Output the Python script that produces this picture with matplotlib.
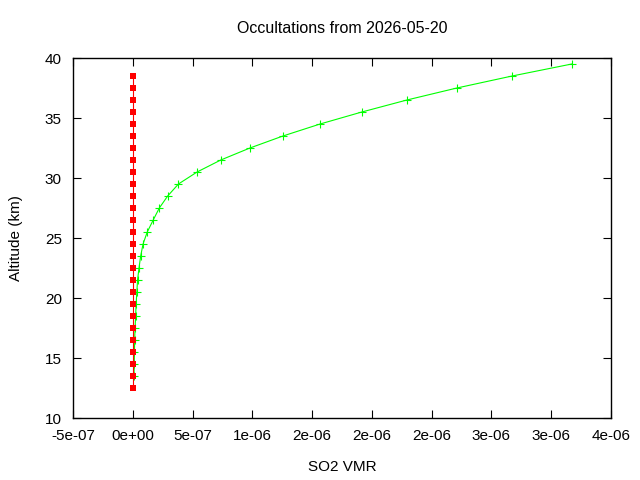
import matplotlib
matplotlib.use('Agg')
import matplotlib.pyplot as plt
from matplotlib import rc

# profile data
alt_red = [12.5, 13.5, 14.5, 15.5, 16.5, 17.5, 18.5, 19.5, 20.5, 21.5, 22.5, 23.5, 24.5,
           25.5, 26.5, 27.5, 28.5, 29.5, 30.5, 31.5, 32.5, 33.5, 34.5, 35.5, 36.5, 37.5, 38.5]
vmr_red = [0.0] * len(alt_red)

alt_green = [13.5, 14.5, 15.5, 16.5, 17.5, 18.5, 19.5, 20.5, 21.5, 22.5, 23.5, 24.5, 25.5,
             26.5, 27.5, 28.5, 29.5, 30.5, 31.5, 32.5, 33.5, 34.5, 35.5, 36.5, 37.5, 38.5, 39.5]
vmr_green = [0.010e-6, 0.012e-6, 0.014e-6, 0.016e-6, 0.019e-6, 0.024e-6, 0.028e-6, 0.034e-6,
             0.040e-6, 0.052e-6, 0.066e-6, 0.086e-6, 0.121e-6, 0.171e-6, 0.222e-6, 0.292e-6,
             0.382e-6, 0.538e-6, 0.736e-6, 0.980e-6, 1.256e-6, 1.567e-6, 1.916e-6, 2.293e-6,
             2.711e-6, 3.173e-6, 3.672e-6]

x_ticks = [-5e-7, 0, 5e-7, 1e-6, 1.5e-6, 2e-6, 2.5e-6, 3e-6, 3.5e-6, 4e-6]
x_labels = ['-5e-07', '0e+00', '5e-07', '1e-06', '2e-06', '2e-06', '2e-06', '3e-06', '3e-06', '4e-06']
y_ticks = [10, 15, 20, 25, 30, 35, 40]

rc('font', **{'family': ['Liberation Sans', 'DejaVu Sans'], 'size': 11})

fig = plt.figure(figsize=(6.4, 4.8), dpi=100)
ax = fig.add_axes([73 / 640, 1 - 418 / 480, 538 / 640, 360 / 480])

ax.plot(vmr_green, alt_green, color='#00ff00', lw=0.8, marker='+', ms=6, mew=0.8)
ax.plot(vmr_red, alt_red, color='#ff0000', lw=0.8, marker='s', ms=5, mew=0)

ax.set_xlim(-5e-7, 4e-6)
ax.set_ylim(10, 40)
ax.set_xticks(x_ticks)
ax.set_xticklabels(x_labels)
ax.set_yticks(y_ticks)

# gnuplot-like box with inward mirrored ticks
ax.tick_params(direction='in', length=6, width=0.8, top=True, right=True, pad=8)
for s in ax.spines.values():
    s.set_linewidth(1.0)

ax.set_xlabel('SO2 VMR', labelpad=12)
ax.set_ylabel('Altitude (km)', labelpad=16)
ax.set_title('Occultations from 2026-05-20', fontsize=11.5, pad=18)

fig.savefig('out.png', dpi=100)
